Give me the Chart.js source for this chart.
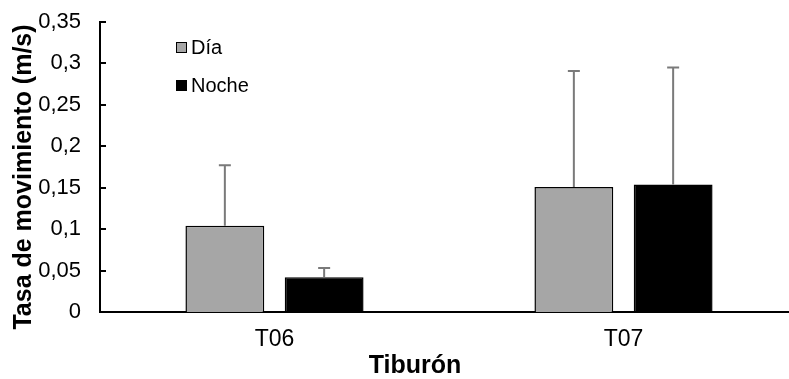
<!DOCTYPE html>
<html>
<head>
<meta charset="utf-8">
<script src="https://cdn.jsdelivr.net/npm/chart.js@4.4.1/dist/chart.umd.min.js"></script>
<style>
    html, body { margin: 0; padding: 0; background: #fff; overflow: hidden; }
    #wrap { position: relative; width: 800px; height: 379px; }
</style>
</head>
<body>
<div id="wrap"><canvas id="tasaChart" width="800" height="379"></canvas></div>
<script>
// Data
const categories = ['T06', 'T07'];
const diaValues = [0.104, 0.151];
const nocheValues = [0.042, 0.154];
const diaError = [0.073, 0.140];
const nocheError = [0.011, 0.141];
const yTicks = [0, 0.05, 0.1, 0.15, 0.2, 0.25, 0.3, 0.35];

const FONT = 'Liberation Sans, Arial, sans-serif';

function formatComma(v) {
    return String(Math.round(v * 100) / 100).replace('.', ',');
}

// Upper error bars with cap
const errorBarsPlugin = {
    id: 'errorBars',
    afterDatasetsDraw(chart) {
        const ctx = chart.ctx;
        const yScale = chart.scales.y;
        ctx.save();
        ctx.strokeStyle = '#7a7a7a';
        ctx.lineWidth = 2;
        chart.data.datasets.forEach((ds, i) => {
            const meta = chart.getDatasetMeta(i);
            meta.data.forEach((bar, j) => {
                const top = yScale.getPixelForValue(ds.data[j] + ds.errors[j]);
                ctx.beginPath();
                ctx.moveTo(bar.x, bar.y);
                ctx.lineTo(bar.x, top);
                ctx.moveTo(bar.x - 6, top);
                ctx.lineTo(bar.x + 6, top);
                ctx.stroke();
            });
        });
        ctx.restore();
    }
};

// Inside tick marks on the value axis
const insideTicksPlugin = {
    id: 'insideTicks',
    afterDraw(chart) {
        const ctx = chart.ctx;
        const yScale = chart.scales.y;
        const left = chart.chartArea.left;
        ctx.save();
        ctx.strokeStyle = '#000';
        ctx.lineWidth = 2;
        yScale.ticks.forEach(t => {
            const y = Math.round(yScale.getPixelForValue(t.value));
            ctx.beginPath();
            ctx.moveTo(left, y);
            ctx.lineTo(left + 6, y);
            ctx.stroke();
        });
        ctx.restore();
    }
};

// Legend inside plot area + axis titles
const labelsPlugin = {
    id: 'labels',
    afterDraw(chart) {
        const ctx = chart.ctx;
        ctx.save();
        ctx.textBaseline = 'middle';
        ctx.font = '20px ' + FONT;
        chart.data.datasets.forEach((ds, i) => {
            const y = 48 + i * 38;
            ctx.fillStyle = ds.backgroundColor;
            ctx.fillRect(176, y - 6, 11, 11);
            ctx.strokeStyle = '#000';
            ctx.lineWidth = 1;
            ctx.strokeRect(176.5, y - 5.5, 10, 10);
            ctx.fillStyle = '#000';
            ctx.textAlign = 'left';
            ctx.fillText(ds.label, 191, y);
        });

        ctx.font = 'bold 25px ' + FONT;
        ctx.textAlign = 'center';
        ctx.fillText('Tiburón', 415, 366);

        ctx.translate(24, 177);
        ctx.rotate(-Math.PI / 2);
        ctx.fillText('Tasa de movimiento (m/s)', 0, 0);
        ctx.restore();
    }
};

new Chart(document.getElementById('tasaChart'), {
    type: 'bar',
    data: {
        labels: categories,
        datasets: [
            {
                label: 'Día',
                data: diaValues,
                errors: diaError,
                backgroundColor: '#a6a6a6',
                borderColor: '#000',
                borderWidth: 1.5,
                categoryPercentage: 0.569,
                barPercentage: 0.794
            },
            {
                label: 'Noche',
                data: nocheValues,
                errors: nocheError,
                backgroundColor: '#000',
                borderColor: '#000',
                borderWidth: 1.5,
                categoryPercentage: 0.569,
                barPercentage: 0.794
            }
        ]
    },
    options: {
        responsive: false,
        animation: false,
        devicePixelRatio: 1,
        layout: { padding: { top: 22, right: 2, left: 0, bottom: 0 } },
        plugins: {
            legend: { display: false },
            tooltip: { enabled: false }
        },
        scales: {
            x: {
                grid: { display: false, drawTicks: false },
                border: { color: '#000', width: 2 },
                ticks: {
                    color: '#000',
                    padding: 14,
                    font: { family: FONT, size: 23 }
                },
                afterFit(scale) { scale.height = 67; }
            },
            y: {
                min: 0,
                max: 0.35,
                afterBuildTicks(scale) {
                    scale.ticks = yTicks.map(v => ({ value: v }));
                },
                grid: { display: false, drawTicks: false },
                border: { color: '#000', width: 2 },
                ticks: {
                    color: '#000',
                    padding: 19,
                    autoSkip: false,
                    font: { family: FONT, size: 22 },
                    callback: v => formatComma(v)
                },
                afterFit(scale) {
                    scale.width = 100;
                    scale.paddingTop = 0;
                    scale.paddingBottom = 0;
                }
            }
        }
    },
    plugins: [errorBarsPlugin, insideTicksPlugin, labelsPlugin]
});
</script>
</body>
</html>
